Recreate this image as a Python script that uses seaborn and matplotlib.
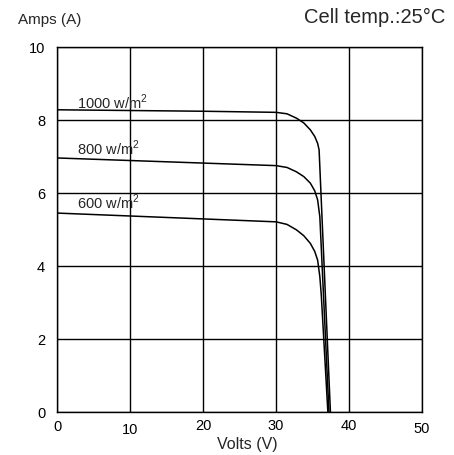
import matplotlib
matplotlib.use("Agg")
import matplotlib.pyplot as plt
import matplotlib.transforms as mtransforms
import seaborn as sns

# I-V curves
volts_1000 = [0, 10, 20, 30, 31.5, 32.8, 33.8, 34.7, 35.3, 35.7, 35.9, 37.45]
amps_1000 = [8.28, 8.26, 8.24, 8.21, 8.17, 8.05, 7.92, 7.73, 7.55, 7.36, 7.18, 0]

volts_800 = [0, 30, 31.5, 32.8, 33.8, 34.7, 35.3, 35.7, 36.0, 37.25]
amps_800 = [6.96, 6.75, 6.70, 6.58, 6.45, 6.27, 6.06, 5.81, 5.35, 0]

volts_600 = [0, 30, 31.5, 32.8, 33.8, 34.7, 35.3, 35.7, 36.0, 36.2, 37.1]
amps_600 = [5.45, 5.21, 5.14, 4.99, 4.83, 4.62, 4.40, 4.16, 3.71, 3.20, 0]

curve_labels = ["1000 w/m$^2$", "800 w/m$^2$", "600 w/m$^2$"]
label_pos = [(2.8, 8.49), (2.8, 7.21), (2.8, 5.75)]

x_ticks = [0, 10, 20, 30, 40, 50]
y_ticks = [0, 2, 4, 6, 8, 10]

sns.set_style("white")
plt.rcParams['font.family'] = ['Liberation Sans', 'DejaVu Sans']
plt.rcParams['mathtext.fontset'] = 'custom'
plt.rcParams['mathtext.rm'] = 'Liberation Sans'

fig = plt.figure(figsize=(4.54, 4.55), dpi=100)
ax = fig.add_axes([0.1256, 0.0945, 0.8040, 0.8022])

for v, a in [(volts_1000, amps_1000), (volts_800, amps_800), (volts_600, amps_600)]:
    sns.lineplot(x=v, y=a, ax=ax, color='black', linewidth=1.1, sort=False)

for txt, (x, y) in zip(curve_labels, label_pos):
    ax.text(x, y, txt, fontsize=10.5, ha='left', va='center')

ax.set_xlim(0, 50)
ax.set_ylim(0, 10)
ax.set_xticks(x_ticks)
ax.set_yticks(y_ticks)
ax.grid(True, color='black', linewidth=1.0)
for s in ax.spines.values():
    s.set_color('black')
    s.set_linewidth(1.0)
ax.tick_params(length=0, labelsize=10.5, colors='black')
ax.tick_params(axis='x', pad=6)
ax.tick_params(axis='y', pad=8.5)

# slight jitter of the x tick labels as in the original
offsets = [0, -2, 1, 1, 1, -1.5]
for lab, dy in zip(ax.get_xticklabels(), offsets):
    lab.set_transform(lab.get_transform() +
                      mtransforms.ScaledTranslation(0, dy / 72, fig.dpi_scale_trans))

fig.text(247 / 454, 1 - 445 / 455, 'Volts (V)', fontsize=11.5, ha='center', va='center')
fig.text(18 / 454, 1 - 20 / 455, 'Amps (A)', fontsize=11, ha='left', va='center')
fig.text(445 / 454, 1 - 17 / 455, 'Cell temp.:25°C', fontsize=14.5, ha='right', va='center')

plt.savefig('out.png', dpi=100)
